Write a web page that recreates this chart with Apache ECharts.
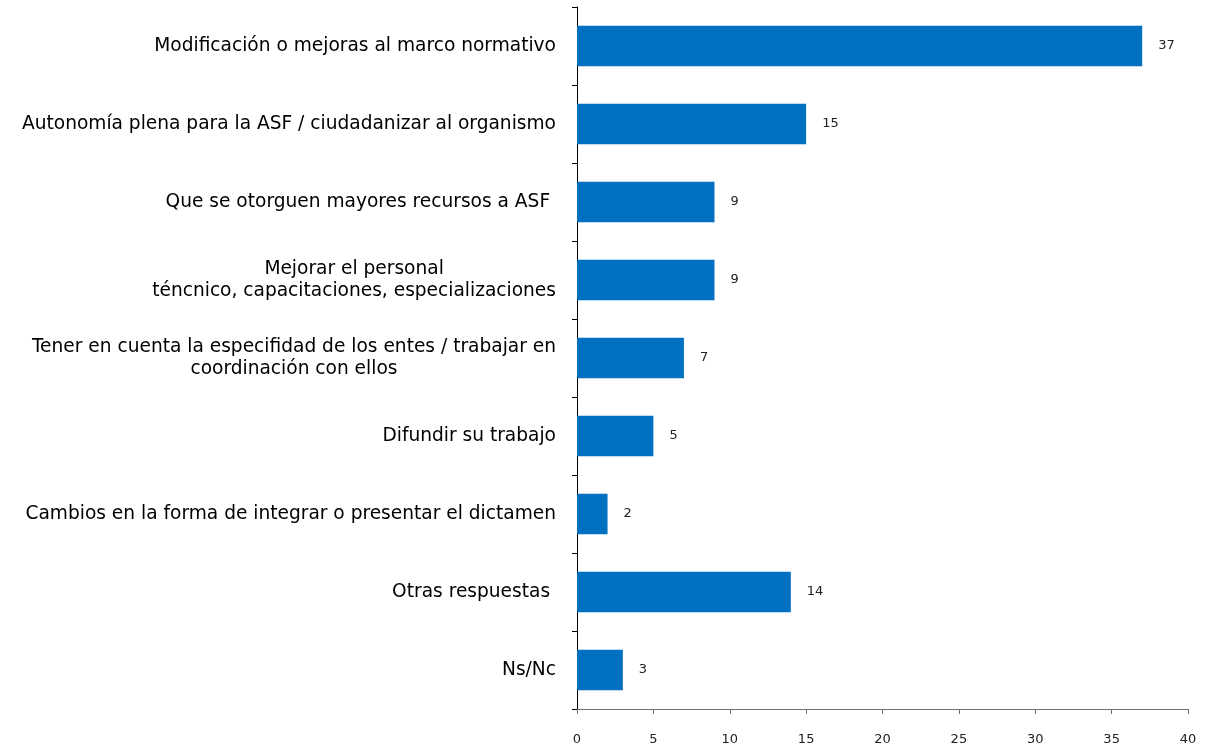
<!DOCTYPE html>
<html><head><meta charset="utf-8">
<script src="https://cdn.jsdelivr.net/npm/echarts@6/dist/echarts.min.js"></script>
<style>html,body{margin:0;padding:0;background:#fff}#c{width:1207px;height:748px}</style>
</head><body><div id="c"></div>
<script>
const categories = [
  "Modificación o mejoras al marco normativo",
  "Autonomía plena para la ASF / ciudadanizar al organismo",
  "Que se otorguen mayores recursos a ASF ",
  "Mejorar el personal\nténcnico, capacitaciones, especializaciones",
  "Tener en cuenta la especifidad de los entes / trabajar en\ncoordinación con ellos",
  "Difundir su trabajo",
  "Cambios en la forma de integrar o presentar el dictamen",
  "Otras respuestas ",
  "Ns/Nc"
];
const values = [37, 15, 9, 9, 7, 5, 2, 14, 3];
const xTicks = [0, 5, 10, 15, 20, 25, 30, 35, 40];

const labelFont = 'DejaVu Sans, Arial';
const chart = echarts.init(document.getElementById('c'));
chart.setOption({
  animation: false,
  grid: {left: 577, right: 19, top: 7, bottom: 39},
  xAxis: {
    type: 'value', min: xTicks[0], max: xTicks[xTicks.length-1], interval: 5,
    splitLine: {show: false},
    axisLine: {show: true, lineStyle: {color: '#707070', width: 1}},
    axisTick: {show: true, length: 5, lineStyle: {color: '#707070'}},
    axisLabel: {color: '#222', fontSize: 13, fontFamily: labelFont, margin: 24}
  },
  yAxis: {
    type: 'category', data: categories.slice().reverse(),
    axisLine: {show: true, lineStyle: {color: '#000', width: 1}},
    axisTick: {show: true, length: 5, lineStyle: {color: '#000'}},
    axisLabel: {
      margin: 21, color: '#000', fontSize: 18.6, fontFamily: labelFont,
      align: 'right', lineHeight: 22,
      formatter: function (v) { return v.split('\n').map(s => '{c|' + s + '}').join('\n'); },
      rich: {c: {align: 'center', fontSize: 18.6, lineHeight: 22, color: '#000', fontFamily: labelFont}}
    }
  },
  series: [{
    type: 'bar', data: values.slice().reverse(), barWidth: '52%',
    itemStyle: {color: '#0070C0'},
    label: {show: true, position: 'right', distance: 16, color: '#222', fontSize: 13, fontFamily: labelFont}
  }]
});
</script></body></html>
